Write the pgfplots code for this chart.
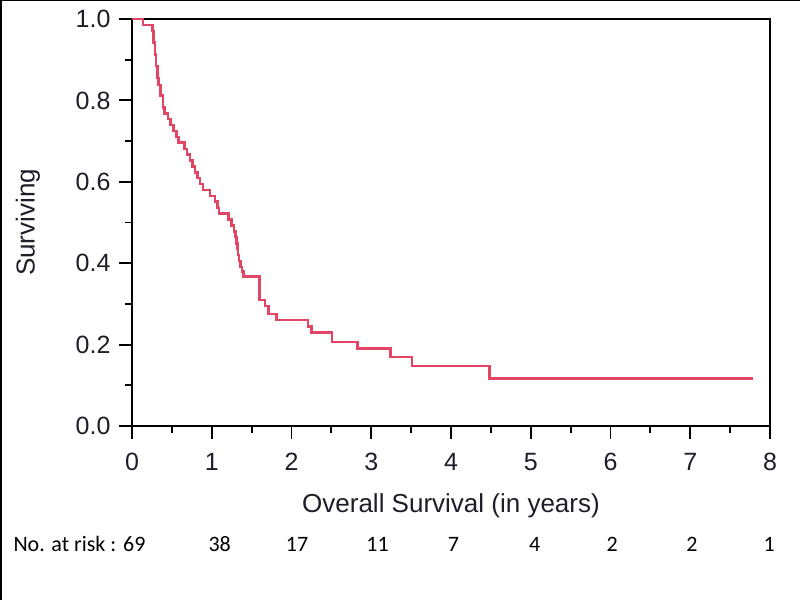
\documentclass[border=0pt]{standalone}
\usepackage{pgfplots}
\pgfplotsset{compat=1.18}
\usepackage{fontspec}
\setmainfont{Liberation Sans}
\newfontfamily\calibri{Carlito}
\definecolor{kmred}{RGB}{226,70,100}
\definecolor{txt}{RGB}{30,30,40}

\begin{document}
\begin{tikzpicture}
\useasboundingbox (0pt,0pt) rectangle (800pt,600pt);
\fill[white] (0pt,0pt) rectangle (800pt,600pt);
\draw[line width=3pt] (0pt,600pt) -- (800pt,600pt);
\draw[line width=3pt] (0pt,0pt) -- (0pt,600pt);
\begin{axis}[
  at={(132pt,174pt)}, anchor=south west,
  scale only axis, width=638pt, height=407pt,
  xmin=0, xmax=8, ymin=0, ymax=1,
  clip=false,
  xtick={0,1,2,3,4,5,6,7,8},
  ytick={0,0.2,0.4,0.6,0.8,1},
  minor x tick num=1, minor y tick num=1,
  xtick pos=bottom, ytick pos=left,
  tick align=outside,
  major tick length=13pt, minor tick length=7pt,
  axis line style={line width=1.9pt, black},
  major tick style={line width=1.9pt, black},
  minor tick style={line width=1.9pt, black},
  /pgf/number format/assume math mode=true,
  tick label style={font=\fontsize{25}{25}\selectfont, text=txt},
  xticklabel style={yshift=-11pt},
  yticklabel style={xshift=-5pt, /pgf/number format/fixed, /pgf/number format/fixed zerofill, /pgf/number format/precision=1},
  xlabel={Overall Survival (in years)},
  ylabel={Surviving},
  label style={font=\fontsize{26}{26}\selectfont, text=txt},
  xlabel style={at={(axis description cs:0.5,-0.2113)}, anchor=base},
  ylabel style={at={(axis description cs:-0.163,0.5)}, anchor=center},
]
\addplot[const plot, color=kmred, line width=2.5pt] table {
t S
0 1.0
0.14 0.985
0.26 0.971
0.27 0.942
0.29 0.913
0.30 0.884
0.32 0.855
0.33 0.838
0.36 0.812
0.39 0.783
0.41 0.768
0.45 0.754
0.48 0.739
0.52 0.725
0.56 0.710
0.58 0.696
0.66 0.681
0.69 0.667
0.73 0.652
0.76 0.638
0.79 0.623
0.82 0.609
0.85 0.594
0.89 0.580
0.98 0.565
1.04 0.551
1.07 0.536
1.09 0.522
1.21 0.507
1.25 0.493
1.28 0.478
1.30 0.464
1.31 0.449
1.32 0.435
1.33 0.420
1.34 0.406
1.36 0.391
1.38 0.380
1.40 0.367
1.60 0.310
1.67 0.295
1.71 0.275
1.81 0.260
2.21 0.245
2.25 0.230
2.51 0.207
2.83 0.190
3.24 0.170
3.51 0.147
4.48 0.117
7.79 0.117
};
\begin{scope}[every node/.style={font=\calibri\fontsize{22}{22}\selectfont, text=black, anchor=base}]
\node[anchor=base west] at (axis cs:-1.53,0) [yshift=-125pt] {No. at risk :};
\node at (axis cs:0.03,0) [yshift=-125pt] {69};
\node at (axis cs:1.10,0) [yshift=-125pt] {38};
\node at (axis cs:2.07,0) [yshift=-125pt] {17};
\node at (axis cs:3.08,0) [yshift=-125pt] {11};
\node at (axis cs:4.03,0) [yshift=-125pt] {7};
\node at (axis cs:5.05,0) [yshift=-125pt] {4};
\node at (axis cs:6.02,0) [yshift=-125pt] {2};
\node at (axis cs:7.02,0) [yshift=-125pt] {2};
\node at (axis cs:7.99,0) [yshift=-125pt] {1};
\end{scope}
\end{axis}
\end{tikzpicture}
\end{document}
